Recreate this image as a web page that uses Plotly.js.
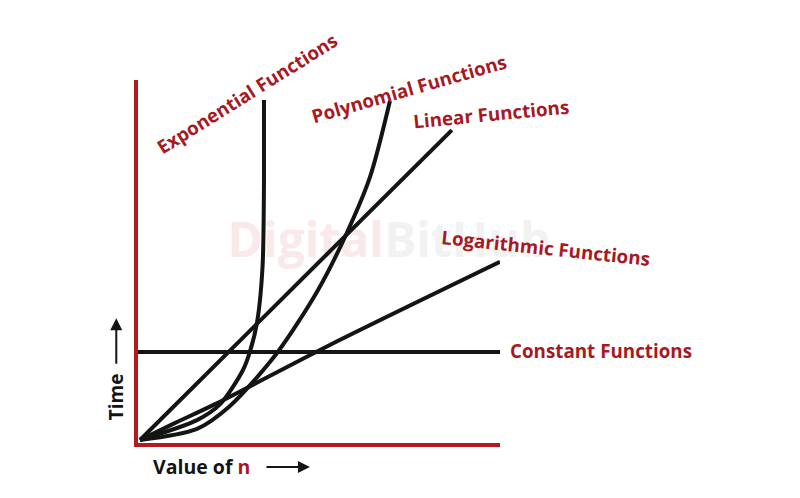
<!DOCTYPE html>
<html>
<head>
<meta charset="utf-8">
<script src="https://cdn.plot.ly/plotly-3.0.1.min.js"></script>
<style>html,body{margin:0;padding:0;background:#fff;}#chart{width:800px;height:498px;}</style>
</head>
<body>
<div id="chart"></div>
<script>
// Curve data (x = value of n, y = time)
const constantX = [0, 100];
const constantY = [25.1, 25.1];

const linearX = [0.55, 86.7];
const linearY = [0.83, 86.2];

const logX = [0.55, 10, 21.3, 53, 100];
const logY = [0.83, 5.4, 10.7, 27.0, 49.9];

const polyX = [0.55, 16.3, 25.4, 38.4, 49.7, 57.7, 64.1, 69.6];
const polyY = [0.83, 3.9, 10.2, 24.8, 42.1, 57.9, 73.3, 94.2];

const expX = [0.55, 16.3, 22.7, 29.0, 30.9, 32.9, 34.4, 34.8, 34.8];
const expY = [0.83, 6.3, 10.7, 20.1, 25.1, 33.3, 48.5, 72.2, 94.5];

const labels = ["Exponential Functions", "Polynomial Functions", "Linear Functions", "Logarithmic Functions", "Constant Functions"];

const RED = '#a8191f';
const AXRED = '#b51a20';
const INK = '#141414';
const FONT = '"Open Sans", "Noto Sans", sans-serif';

function curve(x, y) {
  return {x: x, y: y, type: 'scatter', mode: 'lines',
          line: {color: INK, width: 4, shape: 'spline', smoothing: 0.8},
          hoverinfo: 'skip', showlegend: false};
}

// faint watermark drawn first so it sits behind the curves
const watermark = {
  x: [69.3], y: [54.5], type: 'scatter', mode: 'text',
  text: ['<b><span style="color:#f9e9eb">Digital</span><span style="color:#f2f2f2">BitHub</span></b>'],
  textposition: 'middle center', cliponaxis: false,
  textfont: {family: FONT, size: 48, color: '#f2f2f2'},
  hoverinfo: 'skip', showlegend: false
};

const data = [
  watermark,
  curve(constantX, constantY),
  curve(linearX, linearY),
  curve(logX, logY),
  curve(polyX, polyY),
  curve(expX, expY)
];

// label placement (paper coords) and angles
const labelPos = [
  {x: 0.300, y: 0.962, a: -32},
  {x: 0.748, y: 0.976, a: -16},
  {x: 0.976, y: 0.906, a: -5.5},
  {x: 1.127, y: 0.537, a: 6},
  {x: 1.278, y: 0.253, a: 0}
];

const annotations = labels.map((t, i) => ({
  text: '<b>' + t + '</b>', xref: 'paper', yref: 'paper',
  x: labelPos[i].x, y: labelPos[i].y, textangle: labelPos[i].a,
  showarrow: false, xanchor: 'center', yanchor: 'middle',
  font: {family: FONT, size: 18.8, color: RED}
}));

// Axis titles
annotations.push({
  text: '<b>Time</b>', xref: 'paper', yref: 'paper', x: -0.060, y: 0.127,
  xanchor: 'center', yanchor: 'middle',
  textangle: -90, showarrow: false, font: {family: FONT, size: 19, color: INK}
});
annotations.push({
  text: '', xref: 'paper', yref: 'paper', x: -0.060, y: 0.344,
  ax: 0, ay: 47, showarrow: true, arrowhead: 2, arrowsize: 1.2, arrowwidth: 2, arrowcolor: INK
});
annotations.push({
  text: '<b>Value of <span style="color:' + RED + '">n</span></b>', xref: 'paper', yref: 'paper',
  x: 0.176, y: -0.066, xanchor: 'center', yanchor: 'middle',
  showarrow: false, font: {family: FONT, size: 19.5, color: INK}
});
annotations.push({
  text: '', xref: 'paper', yref: 'paper', x: 0.475, y: -0.066,
  ax: -45, ay: 0, showarrow: true, arrowhead: 2, arrowsize: 1.2, arrowwidth: 2, arrowcolor: INK
});

const layout = {
  width: 800, height: 498,
  margin: {l: 138, r: 300, t: 80, b: 55},
  paper_bgcolor: '#fff', plot_bgcolor: '#fff',
  showlegend: false,
  xaxis: {range: [0, 100], showline: true, linecolor: AXRED, linewidth: 4,
          showgrid: false, zeroline: false, showticklabels: false, ticks: '', fixedrange: true},
  yaxis: {range: [0, 100], showline: true, linecolor: AXRED, linewidth: 4,
          showgrid: false, zeroline: false, showticklabels: false, ticks: '', fixedrange: true},
  annotations: annotations
};

Plotly.newPlot('chart', data, layout, {staticPlot: true});
</script>
</body>
</html>
